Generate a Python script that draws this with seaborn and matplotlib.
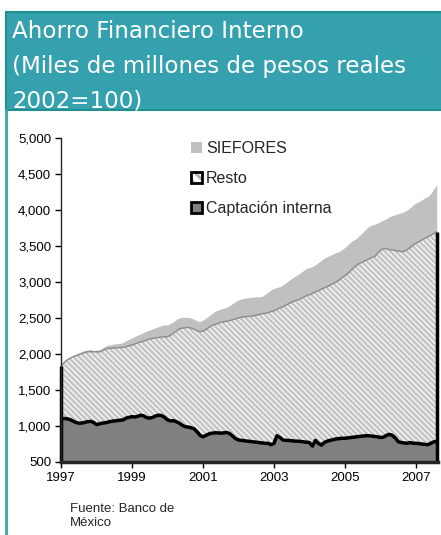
import numpy as np
import pandas as pd
import matplotlib
matplotlib.use("Agg")
import matplotlib.pyplot as plt
import seaborn as sns
from matplotlib.patches import Patch, Rectangle
from matplotlib.lines import Line2D
from matplotlib.ticker import FuncFormatter

sns.set_style("ticks")
plt.rcParams['font.family'] = ['Liberation Sans', 'DejaVu Sans']
plt.rcParams['hatch.linewidth'] = 2.0

# monthly data, Jan 1997 - Aug 2007 (miles de millones de pesos de 2002)
captacion = [
    1100, 1105, 1100, 1090, 1070, 1050, 1040, 1040, 1050, 1060, 1065, 1050,
    1020, 1030, 1040, 1045, 1055, 1065, 1070, 1075, 1080, 1085, 1110, 1120,
    1130, 1125, 1135, 1150, 1140, 1115, 1110, 1120, 1140, 1150, 1145, 1120,
    1085, 1070, 1075, 1060, 1040, 1010, 990, 985, 975, 960, 920, 870,
    850, 870, 890, 900, 905, 905, 900, 905, 910, 895, 860, 825,
    806, 800, 795, 790, 785, 780, 775, 770, 765, 760, 760, 740,
    760, 865, 840, 806, 800, 800, 795, 790, 790, 785, 780, 775,
    770, 720, 800, 760, 735, 770, 790, 800, 810, 820, 825, 830,
    830, 835, 840, 845, 850, 855, 860, 865, 865, 860, 855, 850,
    840, 845, 870, 884, 870, 833, 782, 770, 765, 760, 770, 760,
    760, 755, 750, 745, 740, 760, 780, 785,
]
resto = [
    733, 775, 815, 850, 890, 925, 950, 965, 970, 970, 970, 980,
    1012, 1000, 1005, 1020, 1024, 1015, 1015, 1013, 1010, 1008, 990, 995,
    995, 1015, 1020, 1021, 1040, 1080, 1100, 1098, 1085, 1080, 1090, 1120,
    1155, 1190, 1215, 1260, 1310, 1350, 1375, 1385, 1385, 1385, 1400, 1440,
    1470, 1470, 1480, 1495, 1505, 1520, 1540, 1544, 1545, 1570, 1615, 1665,
    1694, 1710, 1723, 1730, 1740, 1750, 1765, 1780, 1795, 1805, 1815, 1850,
    1840, 1755, 1800, 1851, 1880, 1900, 1925, 1950, 1960, 1985, 2010, 2035,
    2055, 2123, 2060, 2120, 2165, 2150, 2145, 2160, 2170, 2180, 2203, 2230,
    2260, 2285, 2320, 2355, 2386, 2405, 2420, 2435, 2455, 2480, 2497, 2550,
    2600, 2623, 2590, 2566, 2575, 2607, 2648, 2651, 2660, 2690, 2710, 2750,
    2778, 2805, 2835, 2862, 2890, 2890, 2895, 2914,
]
siefores = [
    14, 10, 15, 15, 12, 20, 25, 30, 30, 26, 25, 20,
    20, 30, 40, 45, 46, 50, 55, 57, 58, 67, 85, 90,
    100, 105, 109, 109, 120, 125, 123, 132, 140, 150, 160, 163,
    165, 165, 160, 160, 150, 150, 145, 140, 140, 135, 140, 140,
    150, 160, 160, 165, 180, 185, 185, 186, 195, 205, 225, 240,
    250, 255, 256, 260, 260, 260, 255, 246, 240, 265, 285, 300,
    310, 305, 295, 303, 310, 320, 330, 334, 350, 360, 370, 380,
    375, 372, 380, 390, 400, 410, 417, 410, 410, 410, 393, 390,
    390, 400, 400, 384, 374, 390, 410, 430, 450, 452, 448, 420,
    398, 392, 420, 457, 475, 495, 520, 539, 552, 550, 550, 560,
    562, 555, 555, 563, 555, 580, 615, 651,
]
x_ticks = [1997, 1999, 2001, 2003, 2005, 2007]
y_ticks = list(range(500, 5001, 500))
labels = ["SIEFORES", "Resto", "Captación interna"]

fechas = pd.date_range("1997-01-01", periods=len(captacion), freq="MS")
df = pd.DataFrame({"anio": fechas.year + (fechas.month - 1) / 12,
                   "captacion": captacion, "resto": resto, "siefores": siefores})
df["resto_top"] = df["captacion"] + df["resto"]
df["total"] = df["resto_top"] + df["siefores"]

fig = plt.figure(figsize=(4.41, 5.35), dpi=100)
ax = fig.add_axes([61 / 441, 1 - 462 / 535, 377 / 441, 324 / 535])

base = y_ticks[0]
ax.fill_between(df["anio"], base, df["captacion"], facecolor="#808080", linewidth=0)
ax.fill_between(df["anio"], df["captacion"], df["resto_top"], facecolor="white",
                edgecolor="#c6c6c6", hatch="\\" * 6, linewidth=0)
ax.fill_between(df["anio"], df["resto_top"], df["total"], facecolor="#c0c0c0", linewidth=0)
sns.lineplot(data=df, x="anio", y="resto_top", color="#8c8c8c", lw=1, ax=ax)
sns.lineplot(data=df, x="anio", y="captacion", color="black", lw=2.5, ax=ax)
ends = df.iloc[[0, -1]]
ax.vlines(ends["anio"], base, ends["resto_top"], color="black", lw=2.5, clip_on=False)

ax.set_xlim(x_ticks[0], 2007.62)
ax.set_ylim(base, y_ticks[-1])
ax.set_xticks(x_ticks)
ax.set_yticks(y_ticks)
ax.yaxis.set_major_formatter(FuncFormatter(lambda v, p: f"{int(v):,}"))
ax.set_xlabel("")
ax.set_ylabel("")
sns.despine(ax=ax)
ax.spines["left"].set_linewidth(1)
ax.spines["bottom"].set_linewidth(2.5)
ax.tick_params(direction="out", length=4, width=1, labelsize=9.5, colors="black", pad=3)

handles = [
    Patch(facecolor="#c0c0c0", edgecolor="none"),
    (Patch(facecolor="white", edgecolor="#b0b0b0", hatch="\\\\\\", linewidth=0),
     Patch(facecolor="none", edgecolor="black", linewidth=2)),
    Patch(facecolor="#808080", edgecolor="black", linewidth=2),
]
fig.legend(handles, labels, loc="upper left", bbox_to_anchor=(191 / 441, 1 - 141 / 535),
           frameon=False, fontsize=11.5, handlelength=0.7, handleheight=0.7,
           handletextpad=0.25, labelspacing=0.95, borderpad=0, borderaxespad=0)

# teal header band and left rule
fig.patches.append(Rectangle((6 / 441, 1 - 110 / 535), 1, 98 / 535, transform=fig.transFigure,
                             facecolor="#36a1ae", edgecolor="#1f8f8f", lw=1.5))
fig.lines.append(Line2D([6 / 441, 6 / 441], [0, 1 - 110 / 535], transform=fig.transFigure,
                        color="#3aa6a6", lw=2))
title_lines = ["Ahorro Financiero Interno", "(Miles de millones de pesos reales", "2002=100)"]
for i, t in enumerate(title_lines):
    fig.text(12 / 441, 1 - (38 + 34.5 * i) / 535, t, color="white", fontsize=16.6,
             family="DejaVu Sans", va="baseline")

fig.text(70 / 441, 1 - 503 / 535, "Fuente: Banco de\nMéxico", fontsize=9.5,
         va="top", linespacing=1.25)

fig.savefig("out.png", dpi=100)
